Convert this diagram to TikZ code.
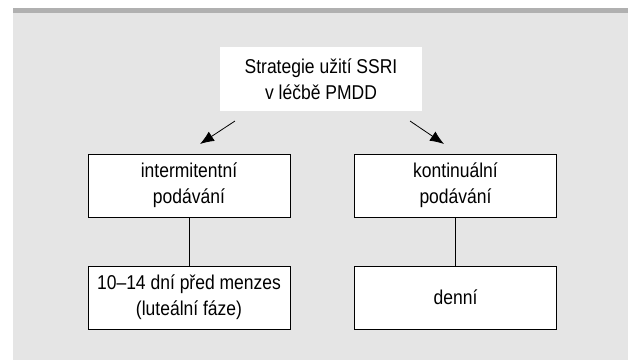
\documentclass[tikz,border=0pt]{standalone}
\usepackage{fontspec}
\setmainfont{Liberation Sans}[FakeStretch=0.875]
\usetikzlibrary{arrows.meta}
\definecolor{bgpanel}{RGB}{229,229,229}
\definecolor{bandgray}{RGB}{176,176,176}
\begin{document}
\begin{tikzpicture}[x=1pt,y=-1pt,
  box/.style={draw=black,line width=0.8pt,fill=white,minimum width=202pt,minimum height=63pt,
    align=center,inner sep=0pt,font=\fontsize{20}{26}\selectfont},
  headbox/.style={fill=white,minimum width=202pt,minimum height=64pt,align=center,inner sep=0pt,
    font=\fontsize{20}{26.5}\selectfont},
  arr/.style={line width=0.8pt,-{Latex[length=14pt,width=11pt]}},
  link/.style={line width=0.8pt}]
\useasboundingbox (0,0) rectangle (628,360);
\fill[white] (0,0) rectangle (628,360);
\fill[bgpanel] (13,8) rectangle (628,360);
\fill[bandgray] (13,8) rectangle (628,13);
\node[headbox] (top) at (321,79) {Strategie užití SSRI\\v léčbě PMDD};
\node[box] (intm) at (189,185.5) {intermitentní\\podávání};
\node[box] (kont) at (455.5,185.5) {kontinuální\\podávání};
\node[box] (luteal) at (189,297.5) {10–14 dní před menzes\\(luteální fáze)};
\node[box] (denni) at (455.5,297.5) {denní};
\coordinate (la) at (235,121);
\coordinate (lb) at (200,144);
\coordinate (ra) at (410,121);
\coordinate (rb) at (444,144);
\draw[arr] (la) -- (lb);
\draw[arr] (ra) -- (rb);
\draw[link] (intm.south) -- (luteal.north);
\draw[link] (kont.south) -- (denni.north);
\end{tikzpicture}
\end{document}
